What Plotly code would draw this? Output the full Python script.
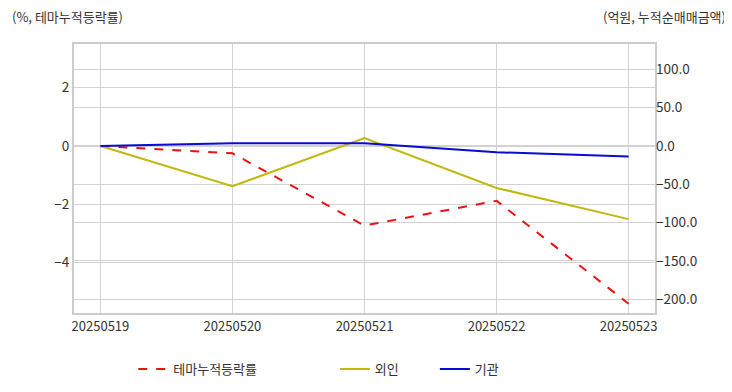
import plotly.graph_objects as go

dates = ["20250519", "20250520", "20250521", "20250522", "20250523"]
theme_rate = [0.0, -0.25, -2.73, -1.88, -5.41]
foreign = [0.0, -52.5, 10.2, -54.8, -95.5]
institution = [0.0, 3.6, 3.6, -8.2, -13.8]

FONT = "Noto Sans CJK KR"

fig = go.Figure()
fig.add_trace(go.Scatter(x=dates, y=theme_rate, name="테마누적등락률", mode="lines",
                         line=dict(color="#ee1111", width=2, dash="dash"),
                         yaxis="y", legend="legend", showlegend=True))
fig.add_trace(go.Scatter(x=dates, y=foreign, name="외인", mode="lines",
                         line=dict(color="#c0b80e", width=2),
                         yaxis="y2", legend="legend2", showlegend=True))
fig.add_trace(go.Scatter(x=dates, y=institution, name="기관", mode="lines",
                         line=dict(color="#0a0ad2", width=2),
                         yaxis="y2", legend="legend2", showlegend=True))

grid = "#d2d2d2"
fig.update_layout(
    width=724, height=384,
    margin=dict(l=66, r=77, t=36, b=79, autoexpand=False),
    showlegend=True,
    paper_bgcolor="white", plot_bgcolor="white",
    font=dict(family=FONT, size=12, color="#333333"),
    xaxis=dict(type="category", range=[-0.2, 4.2], showgrid=True, gridcolor=grid,
               showline=True, linecolor="#cccccc", linewidth=2, mirror=True, automargin=False,
               ticks="", tickfont=dict(size=13, color="#333333"), fixedrange=True),
    yaxis=dict(range=[-5.73, 3.5], tickvals=[-4, -2, 0, 2], showgrid=True, gridcolor=grid,
               zeroline=False, showline=True, linecolor="#cccccc", linewidth=2, mirror=True,
               automargin=False, ticks="", tickfont=dict(size=13.5, color="#333333")),
    yaxis2=dict(range=[-218, 133], dtick=50, tickformat=".1f", overlaying="y", side="right",
                showgrid=True, gridcolor=grid, zeroline=False, ticks="", automargin=False,
                tickfont=dict(size=13.5, color="#333333")),
    legend=dict(orientation="h", x=0.102, xanchor="left", yref="container", y=0.06,
                yanchor="middle", visible=True,
                font=dict(size=13, color="#333333"), bgcolor="rgba(0,0,0,0)"),
    legend2=dict(orientation="h", x=0.449, xanchor="left", yref="container", y=0.06,
                 yanchor="middle", visible=True, entrywidth=55,
                 font=dict(size=13, color="#333333"), bgcolor="rgba(0,0,0,0)"),
    annotations=[
        dict(text="(%, 테마누적등락률)", xref="paper", yref="paper", x=-0.110, y=1.104,
             xanchor="left", yanchor="middle", showarrow=False,
             font=dict(size=13, color="#333333")),
        dict(text="(억원, 누적순매매금액)", xref="paper", yref="paper", x=1.126, y=1.104,
             xanchor="right", yanchor="middle", showarrow=False,
             font=dict(size=13, color="#333333")),
    ],
)

fig.write_html("out.html")
